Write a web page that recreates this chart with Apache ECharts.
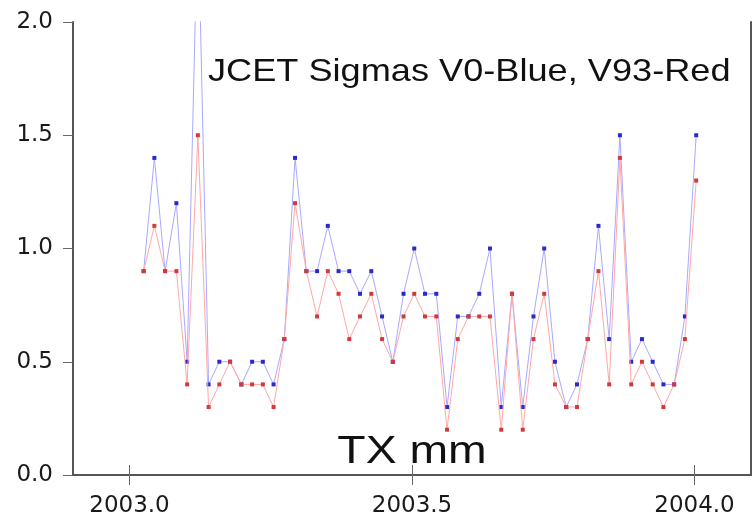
<!DOCTYPE html>
<html>
<head>
<meta charset="utf-8">
<script src="https://cdn.jsdelivr.net/npm/echarts@6/dist/echarts.min.js"></script>
<style>
html,body{margin:0;padding:0;background:#fff;}
#chart{width:753px;height:521px;}
</style>
</head>
<body>
<div id="chart"></div>
<script>
// Weekly epochs (decimal year)
const epochs = [
  2003.025, 2003.044, 2003.063, 2003.083, 2003.102, 2003.121, 2003.140, 2003.159,
  2003.178, 2003.198, 2003.217, 2003.236, 2003.255, 2003.274, 2003.293, 2003.313,
  2003.332, 2003.351, 2003.370, 2003.389, 2003.408, 2003.428, 2003.447, 2003.466,
  2003.485, 2003.504, 2003.523, 2003.543, 2003.562, 2003.581, 2003.600, 2003.619,
  2003.638, 2003.658, 2003.677, 2003.696, 2003.715, 2003.734, 2003.753, 2003.773,
  2003.792, 2003.811, 2003.830, 2003.849, 2003.868, 2003.888, 2003.907, 2003.926,
  2003.945, 2003.964, 2003.983, 2004.003
];
// V0 sigmas (blue)
const sigmaV0 = [
  0.9, 1.4, 0.9, 1.2, 0.5, 2.5, 0.4, 0.5,
  0.5, 0.4, 0.5, 0.5, 0.4, 0.6, 1.4, 0.9,
  0.9, 1.1, 0.9, 0.9, 0.8, 0.9, 0.7, 0.5,
  0.8, 1.0, 0.8, 0.8, 0.3, 0.7, 0.7, 0.8,
  1.0, 0.3, 0.8, 0.3, 0.7, 1.0, 0.5, 0.3,
  0.4, 0.6, 1.1, 0.6, 1.5, 0.5, 0.6, 0.5,
  0.4, 0.4, 0.7, 1.5
];
// V93 sigmas (red)
const sigmaV93 = [
  0.9, 1.1, 0.9, 0.9, 0.4, 1.5, 0.3, 0.4,
  0.5, 0.4, 0.4, 0.4, 0.3, 0.6, 1.2, 0.9,
  0.7, 0.9, 0.8, 0.6, 0.7, 0.8, 0.6, 0.5,
  0.7, 0.8, 0.7, 0.7, 0.2, 0.6, 0.7, 0.7,
  0.7, 0.2, 0.8, 0.2, 0.6, 0.8, 0.4, 0.3,
  0.3, 0.6, 0.9, 0.4, 1.4, 0.4, 0.5, 0.4,
  0.3, 0.4, 0.6, 1.3
];
const xTicks = [2003.0, 2003.5, 2004.0];
const yTicks = [0.0, 0.5, 1.0, 1.5, 2.0];
const titleText = 'JCET Sigmas V0-Blue, V93-Red';
const unitText = 'TX mm';

const chart = echarts.init(document.getElementById('chart'), null, {renderer: 'canvas'});
const frame = {show: true, lineStyle: {color: '#555', width: 2}};
const tick = {show: true, length: 10, inside: false, lineStyle: {color: '#666', width: 1}};
const labelFont = {fontFamily: 'DejaVu Sans', fontSize: 23, color: '#1a1a1a'};

const option = {
  backgroundColor: '#fff',
  animation: false,
  grid: {left: 73, right: 2, top: 22, bottom: 46, show: false},
  xAxis: [
    {
      type: 'value', min: 2002.9, max: 2004.1, position: 'bottom',
      axisLine: frame, splitLine: {show: false},
      axisTick: Object.assign({customValues: xTicks}, tick),
      axisLabel: Object.assign({customValues: xTicks, margin: 20,
        formatter: v => v.toFixed(1)}, labelFont)
    },
    {
      type: 'value', min: 2002.9, max: 2004.1, position: 'top',
      axisLine: frame, splitLine: {show: false},
      axisTick: Object.assign({customValues: xTicks}, tick),
      axisLabel: {show: false}
    }
  ],
  yAxis: [
    {
      type: 'value', min: 0, max: 2, interval: 0.5, position: 'left',
      axisLine: frame, splitLine: {show: false},
      axisTick: tick,
      axisLabel: Object.assign({margin: 20, formatter: v => v.toFixed(1)}, labelFont)
    },
    {
      type: 'value', min: 0, max: 2, interval: 0.5, position: 'right',
      axisLine: frame, splitLine: {show: false},
      axisTick: {show: false}, axisLabel: {show: false}
    }
  ],
  series: [
    {
      name: 'V0', type: 'line',
      data: epochs.map((x, i) => [x, sigmaV0[i]]),
      symbol: 'rect', symbolSize: 4, showAllSymbol: true,
      lineStyle: {color: '#a9a9ff', width: 1},
      itemStyle: {color: '#2a2ac8'},
      clip: true, z: 2
    },
    {
      name: 'V93', type: 'line',
      data: epochs.map((x, i) => [x, sigmaV93[i]]),
      symbol: 'rect', symbolSize: 4, showAllSymbol: true,
      lineStyle: {color: '#ffa8a8', width: 1},
      itemStyle: {color: '#d23a3a'},
      clip: true, z: 3
    }
  ],
  graphic: [
    {
      type: 'text', x: 208, y: 72, scaleX: 1.13, z: 10,
      style: {text: titleText, font: '32px "Liberation Sans"', fill: '#111',
        textAlign: 'left', align: 'left', textVerticalAlign: 'middle', verticalAlign: 'middle'}
    },
    {
      type: 'text', x: 412, y: 453, scaleX: 1.22, z: 10,
      style: {text: unitText, font: '38px "Liberation Sans"', fill: '#111',
        textAlign: 'center', align: 'center', textVerticalAlign: 'middle', verticalAlign: 'middle'}
    }
  ]
};
chart.setOption(option);
</script>
</body>
</html>
